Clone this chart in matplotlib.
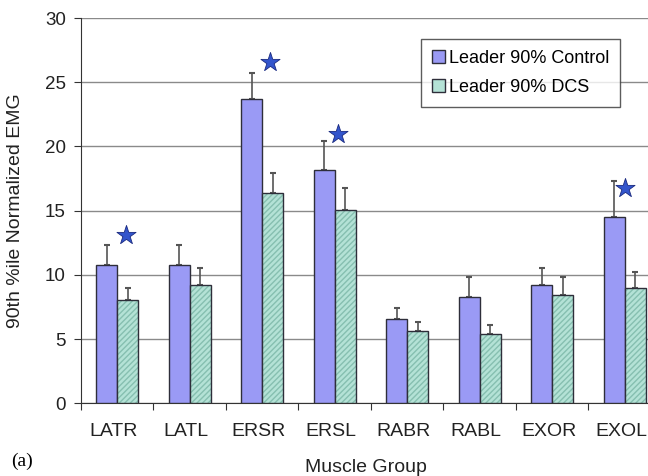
import numpy as np
import matplotlib.pyplot as plt
import matplotlib.transforms as mtransforms
from matplotlib.patches import Patch

muscles = ["LATR", "LATL", "ERSR", "ERSL", "RABR", "RABL", "EXOR", "EXOL"]
control = [10.8, 10.8, 23.7, 18.2, 6.6, 8.3, 9.2, 14.5]
control_err = [1.55, 1.55, 2.0, 2.25, 0.8, 1.55, 1.3, 2.8]
dcs = [8.05, 9.2, 16.4, 15.05, 5.6, 5.4, 8.45, 8.95]
dcs_err = [0.9, 1.3, 1.5, 1.7, 0.75, 0.7, 1.4, 1.3]

# significance stars: category index and height
star_idx = [0, 2, 3, 7]
star_y = [13.1, 26.6, 21.0, 16.8]
star_dx = [0.12, 0.11, 0.05, 0.0]

plt.rcParams['font.family'] = ['Liberation Sans', 'DejaVu Sans']

fig = plt.figure(figsize=(6.48, 4.76), dpi=100, facecolor="white")
ax = fig.add_axes([0.125, 0.1527, 0.895, 0.8093])

centers = np.arange(len(muscles)) + 0.5
w = 0.29
ctrl_col = "#9a9af5"
dcs_col = "#b4e2d6"
edge = "#2e2e3a"

ax.bar(centers - w / 2, control, w, color=ctrl_col, edgecolor=edge, linewidth=1.0, zorder=3)
# hatched fill first, then outline on top
ax.bar(centers + w / 2, dcs, w, color=dcs_col, edgecolor="#86bfb0", hatch="//////",
       linewidth=0, zorder=3)
ax.bar(centers + w / 2, dcs, w, fill=False, edgecolor=edge, linewidth=1.0, zorder=4)

ax.errorbar(centers - w / 2, control, yerr=[np.zeros(8), control_err], fmt="none",
            ecolor="#555555", elinewidth=1.2, capsize=2.5, capthick=1.5, zorder=2)
ax.errorbar(centers + w / 2, dcs, yerr=[np.zeros(8), dcs_err], fmt="none",
            ecolor="#555555", elinewidth=1.2, capsize=2.5, capthick=1.5, zorder=2)

sx = [centers[i] + d for i, d in zip(star_idx, star_dx)]
ax.scatter(sx, star_y, marker="*", s=210, color="#3355cc", edgecolor="#1a2a80",
           linewidth=0.6, zorder=5)

ax.set_xlim(0, 8)
ax.set_ylim(0, 30)
ax.set_yticks(range(0, 31, 5))
ax.set_xticks(range(0, 9))
ax.set_xticklabels([])
ax.set_xticks(centers, minor=True)
ax.set_xticklabels(muscles, minor=True, fontsize=14, color="#222222")
ax.tick_params(axis="x", which="minor", length=0, pad=14)
ax.tick_params(axis="x", which="major", length=5, direction="out", color="#333333")
ax.tick_params(axis="y", length=5, direction="out", labelsize=13.5, pad=6,
               color="#333333", labelcolor="#222222")
# nudge category labels slightly left so the last one stays inside the figure
shift = mtransforms.ScaledTranslation(-0.035, 0, fig.dpi_scale_trans)
for lbl in ax.get_xticklabels(minor=True):
    lbl.set_transform(lbl.get_transform() + shift)
ax.yaxis.grid(True, color="#8a8a8a", linewidth=1.0, zorder=0)
ax.set_axisbelow(True)
for s in ["top", "right"]:
    ax.spines[s].set_visible(False)
ax.spines["left"].set_color("#333333")
ax.spines["bottom"].set_color("#333333")

ax.set_ylabel("90th %ile Normalized EMG", fontsize=14, color="#222222")
ax.yaxis.set_label_coords(-0.098, 0.5)
fig.text(0.565, 0.009, "Muscle Group", ha="center", fontsize=14, color="#222222")
fig.text(0.017, 0.021, "(a)", family="Liberation Serif", fontsize=14)

handles = [Patch(facecolor=ctrl_col, edgecolor=edge, label="Leader 90% Control"),
           Patch(facecolor=dcs_col, edgecolor=edge, label="Leader 90% DCS")]
leg = ax.legend(handles=handles, loc="upper left", bbox_to_anchor=(0.586, 0.945),
                fontsize=13, frameon=True, fancybox=False, shadow=False,
                handlelength=0.75, handleheight=0.75, handletextpad=0.2,
                borderpad=0.6, labelspacing=0.65, borderaxespad=0)
leg.get_frame().set_edgecolor("#333333")
leg.get_frame().set_linewidth(1.0)

fig.savefig("out.png", dpi=100)
